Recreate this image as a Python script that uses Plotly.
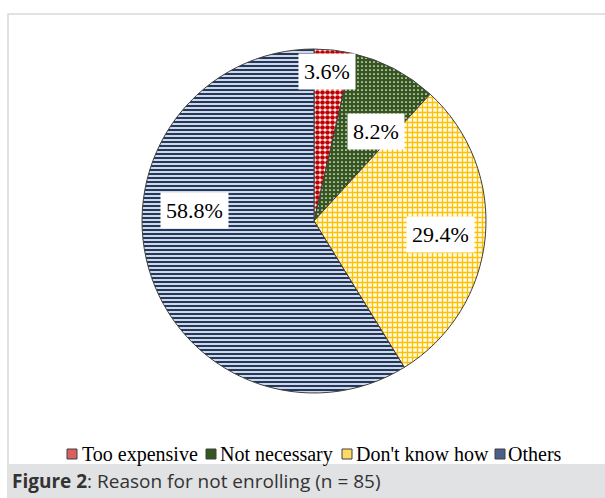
import math
import plotly.graph_objects as go

# ---- data ----
categories = ["Too expensive", "Not necessary", "Don't know how", "Others"]
values = [3.6, 8.2, 29.4, 58.8]
label_texts = ["3.6%", "8.2%", "29.4%", "58.8%"]

# ---- style ----
W, H = 605, 498
fg_colors = ["#C00000", "#FFFFFF", "#FFC000", "#1F3864"]
bg_colors = ["#FFFFFF", "#35561F", "#FFFBEA", "#FFFFFF"]
legend_colors = ["#D86060", "#35561F", "#FFD966", "#4A5F8A"]
shapes_pat = [".", ".", "+", "-"]
pat_sizes = [5, 4, 5, 4]
pat_solidity = [0.7, 0.15, 0.45, 0.6]
label_radius = [0.87, 0.63, 0.74, 0.70]
label_angle_adj = [-1.5, 7, 0.5, 21]
legend_sym_x = [67, 206, 342, 495]   # pixel left of legend squares
legend_txt_x = [82, 220, 356, 508]   # pixel left of legend texts
legend_y = 454

cx, cy, r = 314, 221, 172  # pixel centre / radius of the pie


def px_to_paper(x, y):
    return x / W, 1 - y / H


fig = go.Figure()
fig.add_trace(go.Pie(
    labels=categories,
    values=values,
    sort=False,
    direction="clockwise",
    rotation=0,
    textinfo="none",
    hoverinfo="label+percent",
    showlegend=False,
    marker=dict(
        colors=bg_colors,
        line=dict(color="#404040", width=1),
        pattern=dict(shape=shapes_pat, fgcolor=fg_colors, bgcolor=bg_colors,
                     size=pat_sizes, solidity=pat_solidity),
    ),
    domain=dict(x=[(cx - r) / W, (cx + r) / W],
                y=[1 - (cy + r) / H, 1 - (cy - r) / H]),
))

# data labels positioned from slice midpoints
total = sum(values)
cum = 0
annotations = []
for v, t, rf, adj in zip(values, label_texts, label_radius, label_angle_adj):
    mid = (cum + v / 2) / total * 360 + adj
    cum += v
    lx = cx + rf * r * math.sin(math.radians(mid))
    ly = cy - rf * r * math.cos(math.radians(mid))
    px, py = px_to_paper(lx, ly)
    annotations.append(dict(
        x=px, y=py, xref="paper", yref="paper", xanchor="center", yanchor="middle",
        text=t, showarrow=False,
        font=dict(family="Liberation Serif", size=22, color="#000"),
        bgcolor="#FFFFFF", borderpad=5,
    ))

shapes = [
    dict(type="rect", xref="paper", yref="paper", x0=8 / W, x1=1.01, y0=-0.01, y1=1 - 14 / H,
         line=dict(color="#D9D9D9", width=1.5), fillcolor="rgba(0,0,0,0)", layer="below"),
    dict(type="rect", xref="paper", yref="paper", x0=8 / W, x1=1.01, y0=-0.01, y1=1 - 464 / H,
         line=dict(width=0), fillcolor="#E1E2E3", layer="below"),
]

# manual legend
for cat, col, sx, tx in zip(categories, legend_colors, legend_sym_x, legend_txt_x):
    x0, y0 = px_to_paper(sx, legend_y - 5)
    x1, y1 = px_to_paper(sx + 10, legend_y + 5)
    shapes.append(dict(type="rect", xref="paper", yref="paper", x0=x0, x1=x1, y0=y1, y1=y0,
                       line=dict(color="#404040", width=1), fillcolor=col))
    ax, ay = px_to_paper(tx, legend_y)
    annotations.append(dict(
        x=ax, y=ay, xref="paper", yref="paper", xanchor="left", yanchor="middle",
        text=cat, showarrow=False, xshift=-2,
        font=dict(family="Liberation Serif", size=20, color="#000"),
    ))

annotations.append(dict(
    x=10 / W, y=1 - 481 / H, xref="paper", yref="paper", xanchor="left", yanchor="middle",
    text="<b>Figure 2</b>: Reason for not enrolling (n = 85)", showarrow=False,
    font=dict(family="Open Sans", size=19, color="#333333"),
))

fig.update_layout(
    width=W, height=H,
    margin=dict(l=0, r=0, t=0, b=0),
    paper_bgcolor="#FFFFFF",
    showlegend=False,
    annotations=annotations,
    shapes=shapes,
)

fig.write_html("out.html", config={"displayModeBar": False},
               post_script="document.body.style.margin='0';document.body.style.overflow='hidden';")
